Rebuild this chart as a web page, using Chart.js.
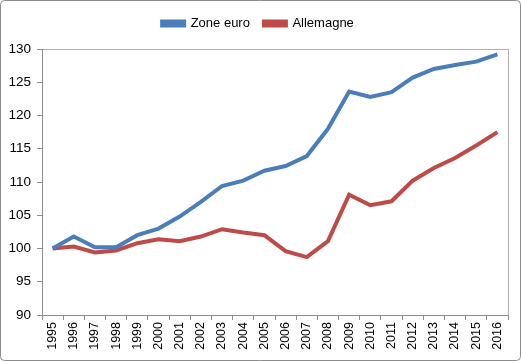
<!DOCTYPE html>
<html>
<head>
<meta charset="utf-8">
<script src="https://cdn.jsdelivr.net/npm/chart.js@4/dist/chart.umd.min.js"></script>
<style>
  html, body { margin: 0; padding: 0; background: #fff; }
  #wrap { width: 521px; height: 361px; position: relative; }
</style>
</head>
<body>
<div id="wrap"><canvas id="chart"></canvas></div>
<script>
// --- data ---
const years = ['1995','1996','1997','1998','1999','2000','2001','2002','2003','2004','2005',
               '2006','2007','2008','2009','2010','2011','2012','2013','2014','2015','2016'];
const zoneEuro = [100, 101.8, 100.2, 100.2, 102, 103, 104.8, 107, 109.4, 110.2, 111.7,
                  112.4, 113.9, 118, 123.6, 122.8, 123.5, 125.7, 127, 127.6, 128.1, 129.2];
const allemagne = [100, 100.3, 99.4, 99.7, 100.8, 101.4, 101.1, 101.8, 102.9, 102.4, 102,
                   99.6, 98.7, 101.1, 108.1, 106.5, 107.1, 110.2, 112.1, 113.6, 115.5, 117.5];
const yMin = 90, yMax = 130, yStep = 5;

const blue = '#4A7EBB';
const red = '#BE4B48';

// frame around the whole chart + box around plot area
const frames = {
    id: 'frames',
    beforeDraw(chart) {
        const c = chart.ctx;
        c.save();
        c.strokeStyle = '#8c8c8c';
        c.lineWidth = 1;
        c.beginPath();
        c.roundRect(0.5, 0.5, chart.width - 1, chart.height - 1, 4);
        c.stroke();
        const a = chart.chartArea;
        c.strokeStyle = '#b0b0b0';
        c.strokeRect(a.left + 0.5, a.top + 0.5, a.right - a.left, a.bottom - a.top);
        c.restore();
    }
};

// extra room under the legend
const legendGap = {
    id: 'legendGap',
    beforeInit(chart) {
        const fit = chart.legend.fit;
        chart.legend.fit = function () {
            fit.bind(chart.legend)();
            this.height += 9;
        };
    }
};

function makeChart() {
    const ctx = document.getElementById('chart').getContext('2d');
    new Chart(ctx, {
        type: 'line',
        data: {
            labels: years,
            datasets: [{
                label: 'Zone euro',
                data: zoneEuro,
                borderColor: blue,
                backgroundColor: blue,
                borderWidth: 4,
                pointRadius: 0,
                tension: 0,
                fill: false
            },
            {
                label: 'Allemagne',
                data: allemagne,
                borderColor: red,
                backgroundColor: red,
                borderWidth: 4,
                pointRadius: 0,
                tension: 0,
                fill: false
            }]
        },
        options: {
            responsive: false,
            animation: false,
            devicePixelRatio: 1,
            layout: { padding: { left: 8, right: 13, top: 3, bottom: 8 } },
            plugins: {
                legend: {
                    position: 'top',
                    labels: {
                        boxWidth: 22,
                        boxHeight: 4,
                        padding: 14,
                        color: '#000',
                        font: { family: 'Liberation Sans', size: 13 }
                    }
                },
                tooltip: { enabled: false }
            },
            scales: {
                x: {
                    offset: true,
                    grid: { offset: true, drawOnChartArea: false, tickLength: 5, color: '#8c8c8c' },
                    border: { color: '#8c8c8c' },
                    ticks: {
                        maxRotation: 90, minRotation: 90, autoSkip: false,
                        color: '#000', padding: 2,
                        font: { family: 'Liberation Sans', size: 12.5 }
                    },
                    afterFit(scale) { scale.height = 38; }
                },
                y: {
                    min: yMin, max: yMax,
                    grid: { drawOnChartArea: false, tickLength: 5, color: '#8c8c8c' },
                    border: { color: '#8c8c8c' },
                    ticks: {
                        stepSize: yStep, color: '#000', padding: 6,
                        font: { family: 'Liberation Sans', size: 13.5 }
                    },
                    afterFit(scale) { scale.width = 34; }
                }
            }
        },
        plugins: [frames, legendGap]
    });
}

const cv = document.getElementById('chart');
cv.width = 521; cv.height = 361;
makeChart();
</script>
</body>
</html>
